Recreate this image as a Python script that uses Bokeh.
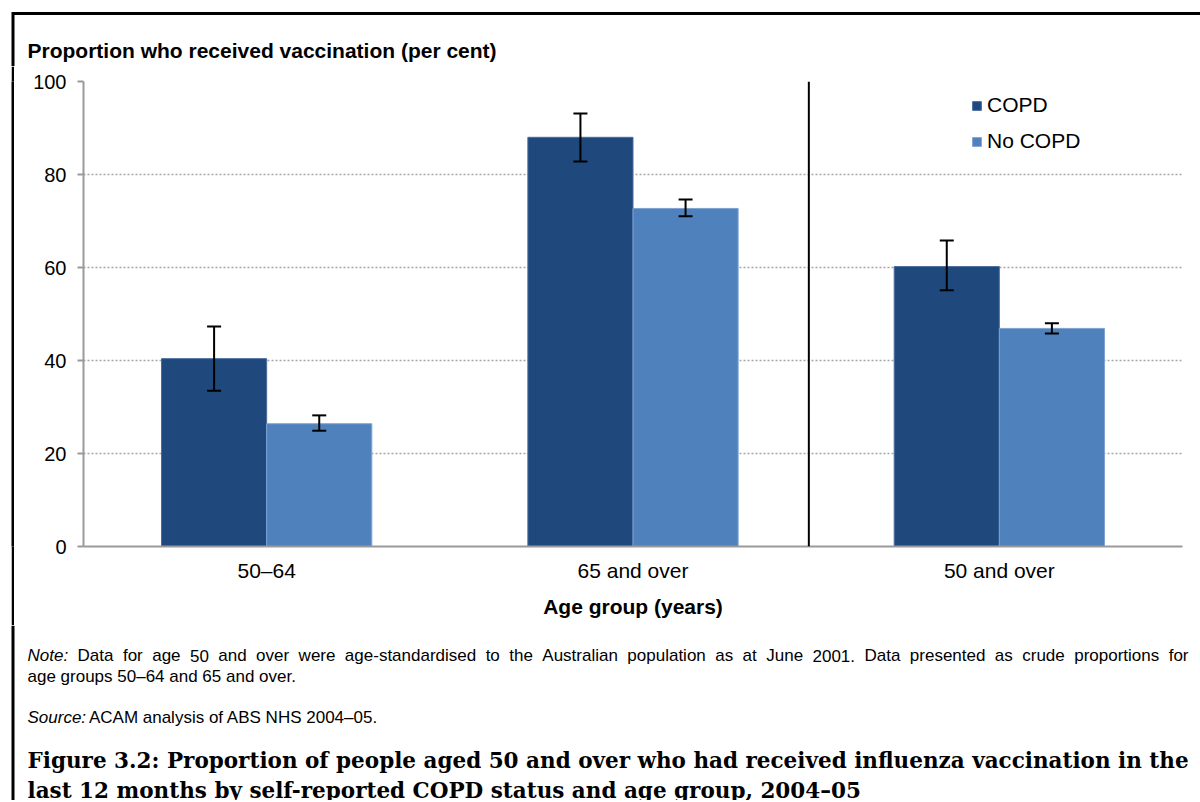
from bokeh.plotting import figure
from bokeh.layouts import column, row
from bokeh.models import (ColumnDataSource, FactorRange, Range1d, Whisker, TeeHead, Span,
                          Legend, LegendItem, FixedTicker, Spacer)
from bokeh.transform import dodge
from bokeh.core.properties import value
from bokeh.embed import file_html
from bokeh.resources import INLINE

# ---- data ----
age_groups = ["50–64", "65 and over", "50 and over"]
series = ["COPD", "No COPD"]
copd = [40.4, 88.0, 60.2]
copd_lower = [33.5, 82.8, 55.1]
copd_upper = [47.3, 93.1, 65.8]
no_copd = [26.4, 72.7, 46.9]
no_copd_lower = [24.9, 71.0, 45.8]
no_copd_upper = [28.2, 74.6, 48.0]
y_ticks = [0, 20, 40, 60, 80, 100]

y_title = "Proportion who received vaccination (per cent)"
x_title = "Age group (years)"
note_head = "Note:"
note_body = ("Data for age 50 and over were age-standardised to the Australian population as at June 2001. "
             "Data presented as crude proportions for")
note_body2 = "age groups 50–64 and 65 and over."
source_head = "Source:"
source_body = "ACAM analysis of ABS NHS 2004–05."
caption1 = "Figure 3.2: Proportion of people aged 50 and over who had received influenza vaccination in the"
caption2 = "last 12 months by self-reported COPD status and age group, 2004–05"

colors = {"COPD": "#1F497D", "No COPD": "#4F81BD"}
edges = {"COPD": "#4A6E9E", "No COPD": "#7FA3D0"}
FONT = "Liberation Sans"
SERIF = "DejaVu Serif"

W = 1200
TOP_H = 66
GAP_W = 11
STRIP_W = 3
MAIN_W = W - GAP_W - STRIP_W
MAIN_H = 559
BOT_H = 175

# Liberation Sans (Arial-metric) advance widths, per 1000 em, for justifying the note line
ADV = {" ": 278, ".": 278, ":": 278, "-": 333, "–": 556, "A": 667, "D": 722, "J": 500, "N": 722,
       "a": 556, "c": 500, "d": 556, "e": 556, "f": 278, "g": 556, "h": 556, "i": 222, "l": 222,
       "n": 556, "o": 556, "p": 556, "r": 333, "s": 500, "t": 278, "u": 556, "v": 500, "w": 722}


def adv(word, size):
    return sum(ADV.get(ch, 556) for ch in word) * size / 1000.0


def text_fig(width, height):
    f = figure(width=width, height=height, output_backend="svg", toolbar_location=None,
               x_range=Range1d(0, width), y_range=Range1d(height, 0),
               x_axis_type=None, y_axis_type=None, min_border=0)
    f.grid.visible = False
    f.outline_line_color = None
    f.border_fill_color = "white"
    return f


def put(f, x, y, text, size, style="normal", font=FONT, align="left"):
    xs = x if isinstance(x, list) else [x]
    ts = text if isinstance(text, list) else [text]
    f.text(x=xs, y=[y] * len(xs), text=ts, text_font=value(font), text_font_size=value(size),
           text_font_style=style, text_align=align, text_baseline="middle", text_color="black")


# ---- top strip: border + y title ----
top = text_fig(W, TOP_H)
top.segment(x0=[12.5, 12.5], y0=[13, 11.5], x1=[W, 12.5], y1=[13, TOP_H], line_color="black", line_width=3)
put(top, 27, 50, y_title, "21px", "bold")

# ---- left strip of the border (solid black) ----
strip = figure(width=STRIP_W, height=MAIN_H, output_backend="svg", toolbar_location=None,
               x_axis_type=None, y_axis_type=None, min_border=0)
strip.grid.visible = False
strip.outline_line_color = None
strip.border_fill_color = "black"
strip.background_fill_color = "black"

# ---- main chart ----
src = ColumnDataSource(dict(cat=age_groups, copd=copd, copd_lo=copd_lower, copd_hi=copd_upper,
                            nocopd=no_copd, nocopd_lo=no_copd_lower, nocopd_hi=no_copd_upper))

p = figure(width=MAIN_W, height=MAIN_H, output_backend="svg", toolbar_location=None,
           x_range=FactorRange(*age_groups, range_padding=0, factor_padding=0),
           y_range=Range1d(0, 100),
           min_border_left=69, min_border_right=18, min_border_top=15, min_border_bottom=79)
p.outline_line_color = None
p.border_fill_color = "white"

bw = 0.287
off = bw / 2
r1 = p.vbar(x=dodge("cat", -off, range=p.x_range), top="copd", width=bw, source=src,
            fill_color=colors["COPD"], line_color=edges["COPD"], line_width=1)
r2 = p.vbar(x=dodge("cat", off, range=p.x_range), top="nocopd", width=bw, source=src,
            fill_color=colors["No COPD"], line_color=edges["No COPD"], line_width=1)

for key, o in (("copd", -off), ("nocopd", off)):
    w = Whisker(base=dodge("cat", o, range=p.x_range), lower=key + "_lo", upper=key + "_hi",
                source=src, line_color="black", line_width=2, level="overlay",
                upper_head=TeeHead(size=14, line_width=2, line_color="black"),
                lower_head=TeeHead(size=14, line_width=2, line_color="black"))
    p.add_layout(w)

p.add_layout(Span(location=1.98, dimension="height", line_color="black", line_width=2))

p.yaxis.ticker = FixedTicker(ticks=y_ticks)
p.yaxis.axis_line_color = "#9A9A9A"
p.yaxis.axis_line_width = 2
p.yaxis.major_tick_line_color = "#9A9A9A"
p.yaxis.major_tick_line_width = 2
p.yaxis.major_tick_out = 6
p.yaxis.major_tick_in = 0
p.yaxis.minor_tick_line_color = None
p.yaxis.major_label_standoff = 11
p.yaxis.major_label_text_font = FONT
p.yaxis.major_label_text_font_size = "20px"
p.yaxis.major_label_text_color = "black"

p.xaxis.axis_line_color = "#9A9A9A"
p.xaxis.axis_line_width = 2
p.xaxis.major_tick_line_color = None
p.xaxis.minor_tick_line_color = None
p.xaxis.major_label_standoff = 6
p.xaxis.major_label_text_font = FONT
p.xaxis.major_label_text_font_size = "21px"
p.xaxis.major_label_text_color = "black"
p.xaxis.axis_label = x_title
p.xaxis.axis_label_text_font = FONT
p.xaxis.axis_label_text_font_size = "21px"
p.xaxis.axis_label_text_font_style = "bold"
p.xaxis.axis_label_text_color = "black"
p.xaxis.axis_label_standoff = 10

p.xgrid.grid_line_color = None
p.ygrid.grid_line_color = "#A6A6A6"
p.ygrid.grid_line_dash = "2 2"
p.ygrid.grid_line_width = 1.5

legend = Legend(items=[LegendItem(label=s, renderers=[r]) for s, r in zip(series, (r1, r2))],
                location=(888, 393), orientation="vertical",
                glyph_width=11, glyph_height=11, label_height=20, spacing=12,
                label_standoff=5, padding=0, margin=0,
                border_line_color=None, background_fill_alpha=0,
                label_text_font=FONT, label_text_font_size="21px", label_text_color="black")
p.add_layout(legend)

# ---- bottom: notes, source, caption ----
bot = text_fig(W, BOT_H)
bot.segment(x0=[12.5], y0=[0], x1=[12.5], y1=[BOT_H], line_color="black", line_width=3)
OY = TOP_H + MAIN_H
NS = 17
L, R = 27, 1188

# justified first note line (word positions from font metrics)
words = [note_head] + note_body.split(" ")
natural = sum(adv(wd, NS) for wd in words)
space = (R - L - natural) / (len(words) - 1)
xs, xpos = [], L
for wd in words:
    xs.append(xpos)
    xpos += adv(wd, NS) + space
put(bot, xs[0], 655 - OY, words[0], f"{NS}px", "italic")
put(bot, xs[1:], 655 - OY, words[1:], f"{NS}px")
put(bot, L, 676 - OY, note_body2, f"{NS}px")
put(bot, L, 717 - OY, source_head, f"{NS}px", "italic")
put(bot, L + adv(source_head + " ", NS), 717 - OY, source_body, f"{NS}px")
put(bot, L, 760 - OY, caption1, "21.5px", "bold", font=SERIF)
put(bot, L, 790 - OY, caption2, "21.5px", "bold", font=SERIF)

layout = column(top, row(Spacer(width=GAP_W, height=MAIN_H), strip, p, spacing=0), bot, spacing=0)
open("out.html", "w").write(file_html(layout, INLINE))
